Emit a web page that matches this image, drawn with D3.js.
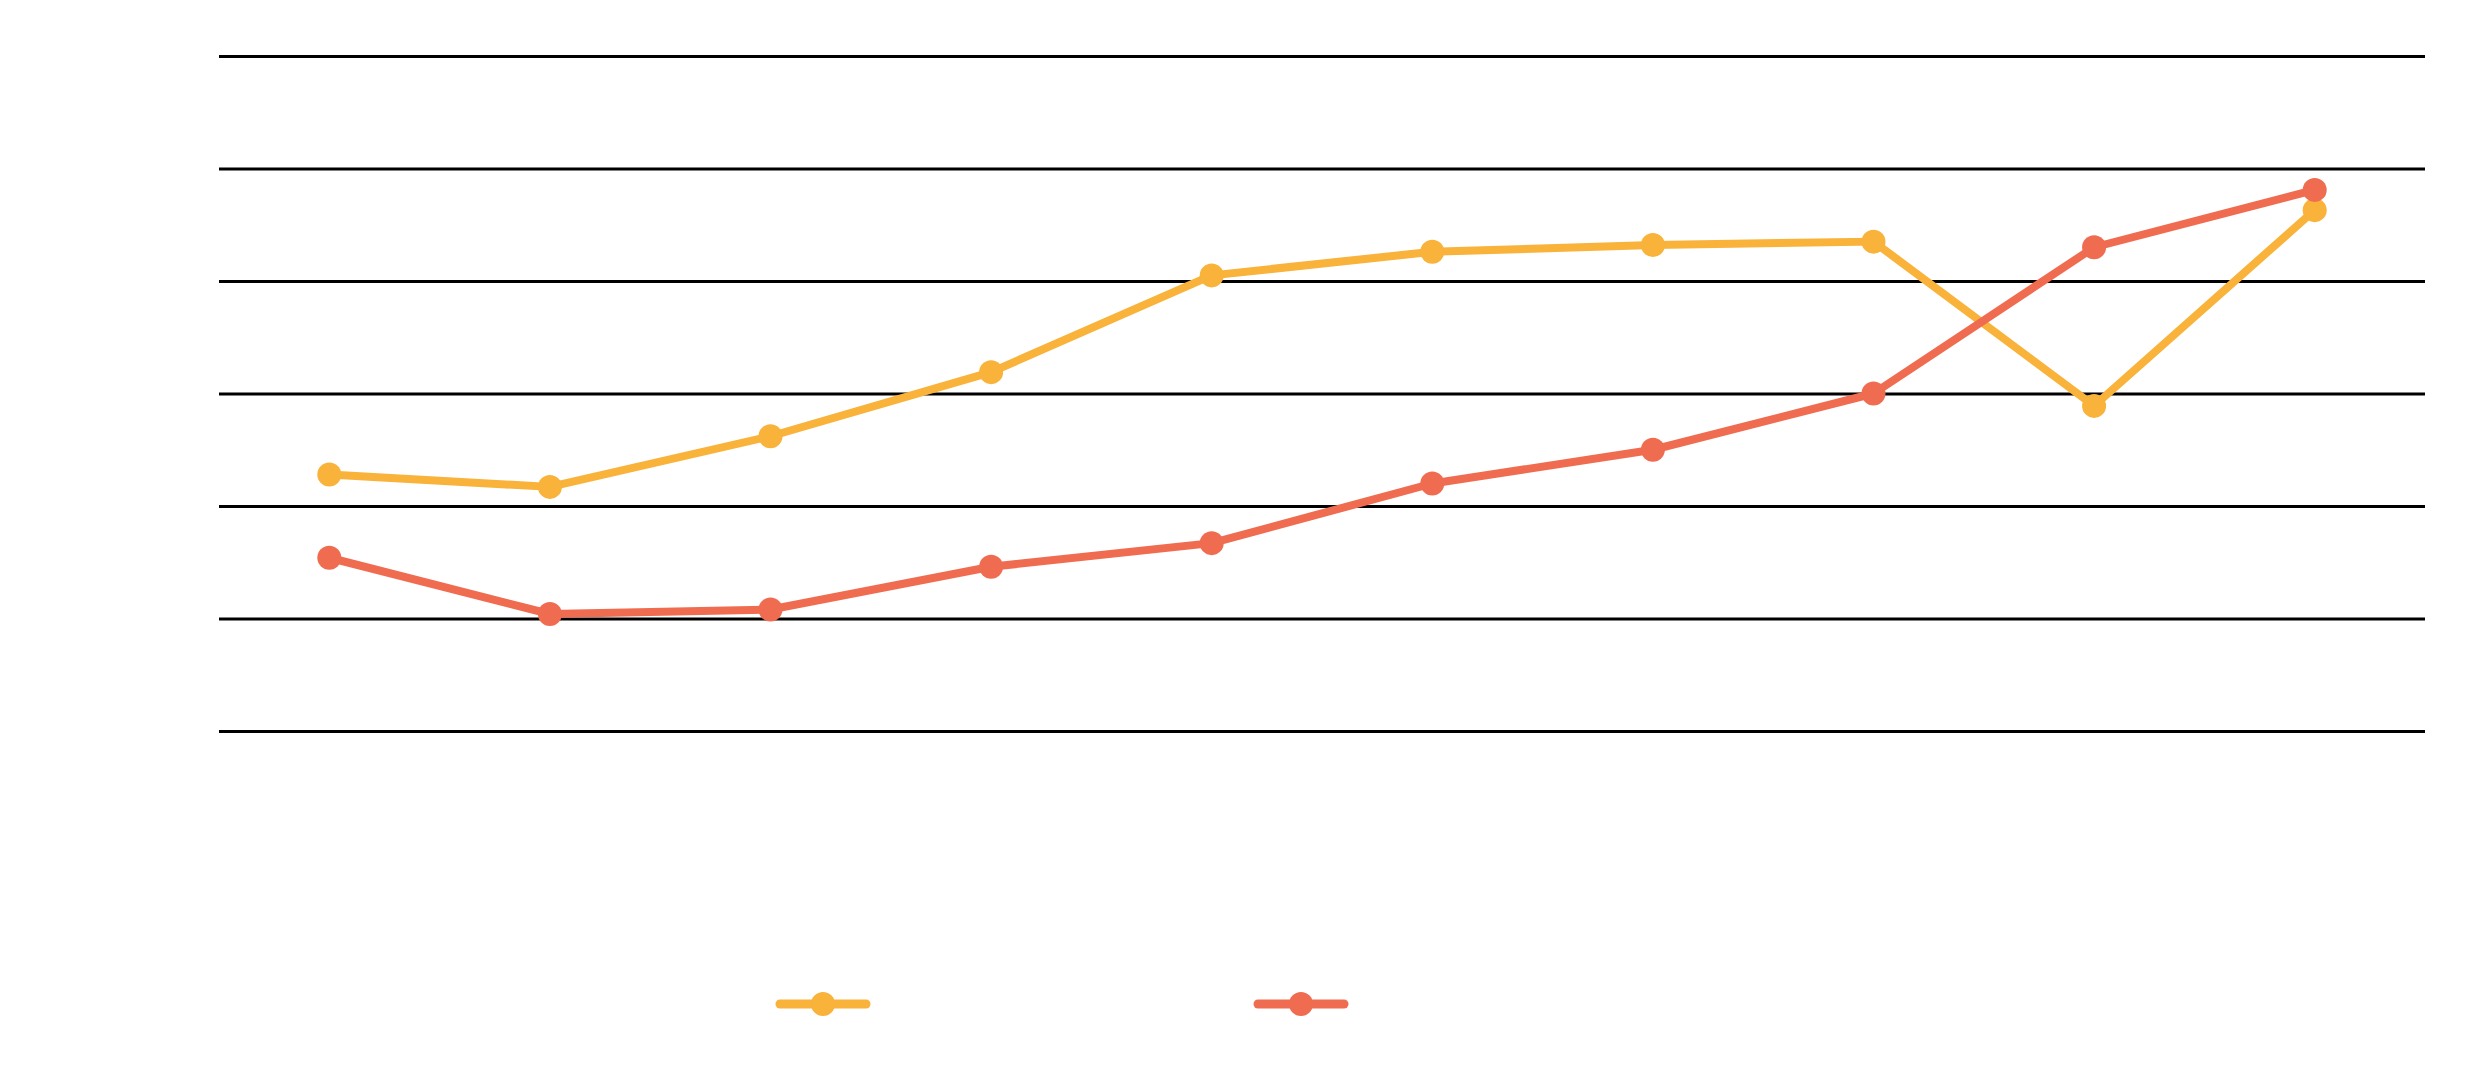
<!DOCTYPE html>
<html>
<head>
<meta charset="utf-8">
<script src="https://cdn.jsdelivr.net/npm/d3@7"></script>
<style>
  html, body { margin: 0; padding: 0; background: #fff; }
  svg { display: block; }
</style>
</head>
<body>
<div id="main"></div>
<script>
// data (no labels are visible in the reference)
const categories = ["1", "2", "3", "4", "5", "6", "7", "8", "9", "10"];
const seriesA = [22.8, 21.7, 26.2, 31.9, 40.5, 42.6, 43.2, 43.5, 28.9, 46.3];
const seriesB = [15.4, 10.4, 10.8, 14.6, 16.7, 22.0, 25.0, 30.0, 43.0, 48.1];
const yTicks = [0, 10, 20, 30, 40, 50, 60];

const colorA = "#f9b23a", colorB = "#f06c50";

const W = 2475, H = 1081;
const plotLeft = 219, plotRight = 2425, plotTop = 56, plotBottom = 731;

const svg = d3.select("#main")
    .append("svg")
    .attr("width", W)
    .attr("height", H);

const x = d3.scalePoint()
    .domain(categories)
    .range([plotLeft, plotRight])
    .padding(0.5);

const y = d3.scaleLinear()
    .domain([0, 60])
    .range([plotBottom, plotTop]);

// gridlines
const grid = svg.append("g")
    .attr("transform", `translate(${plotLeft},0)`)
    .call(d3.axisLeft(y).tickValues(yTicks).tickSize(-(plotRight - plotLeft)).tickFormat(""));
grid.select(".domain").remove();
grid.selectAll(".tick line")
    .attr("stroke", "#000")
    .attr("stroke-width", 3);

const line = d3.line()
    .x((d, i) => x(categories[i]))
    .y(d => y(d));

function drawSeries(values, color) {
    svg.append("path")
        .datum(values)
        .attr("fill", "none")
        .attr("stroke", color)
        .attr("stroke-width", 8)
        .attr("stroke-linejoin", "round")
        .attr("d", line);

    svg.append("g")
        .selectAll("circle")
        .data(values)
        .join("circle")
        .attr("cx", (d, i) => x(categories[i]))
        .attr("cy", d => y(d))
        .attr("r", 12)
        .attr("fill", color);
}

drawSeries(seriesA, colorA);
drawSeries(seriesB, colorB);

// legend
const legend = [
    { color: colorA, cx: 823 },
    { color: colorB, cx: 1301 }
];
const legendY = 1004;
const lg = svg.append("g");
legend.forEach(l => {
    lg.append("line")
        .attr("x1", l.cx - 43)
        .attr("x2", l.cx + 43)
        .attr("y1", legendY)
        .attr("y2", legendY)
        .attr("stroke", l.color)
        .attr("stroke-width", 9)
        .attr("stroke-linecap", "round");
    lg.append("circle")
        .attr("cx", l.cx)
        .attr("cy", legendY)
        .attr("r", 12)
        .attr("fill", l.color);
});
</script>
</body>
</html>
